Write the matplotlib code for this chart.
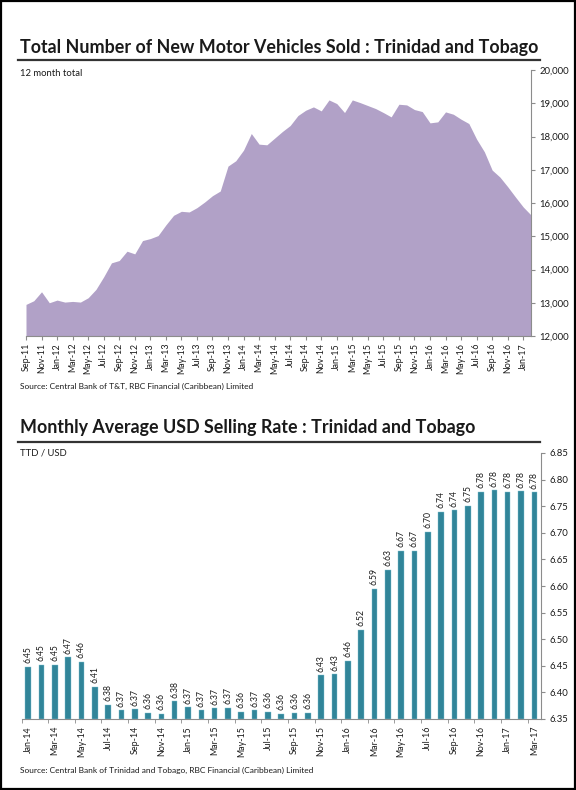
import matplotlib
matplotlib.use("Agg")
import matplotlib.pyplot as plt
from matplotlib.ticker import FuncFormatter, FixedLocator
import matplotlib.patches as mpatches
import matplotlib.lines as mlines

plt.rcParams['font.family'] = ['Lato', 'DejaVu Sans']

# 12 month total of new vehicle sales, Sep-11 .. Feb-17
vehicle_start = "2011-09"
vehicles = [12950, 13060, 13330, 13000, 13080, 13020, 13040, 13020, 13150, 13400,
            13780, 14200, 14270, 14550, 14470, 14870, 14930, 15020, 15340, 15630,
            15750, 15730, 15860, 16030, 16220, 16360, 17110, 17270, 17590, 18090,
            17770, 17750, 17950, 18150, 18330, 18630, 18790, 18890, 18770, 19100,
            18990, 18720, 19100, 19020, 18930, 18840, 18720, 18590, 18970, 18950,
            18810, 18750, 18410, 18440, 18740, 18670, 18520, 18390, 17920, 17540,
            16990, 16780, 16490, 16180, 15880, 15640]

# monthly average USD selling rate, Jan-14 .. Mar-17
rate_start = "2014-01"
usd_rate = [6.448, 6.452, 6.452, 6.466, 6.457, 6.410, 6.377, 6.366, 6.368, 6.362,
            6.360, 6.383, 6.372, 6.366, 6.370, 6.371, 6.364, 6.366, 6.364, 6.359,
            6.362, 6.362, 6.432, 6.434, 6.459, 6.518, 6.594, 6.631, 6.666, 6.666,
            6.702, 6.739, 6.742, 6.751, 6.777, 6.780, 6.777, 6.778, 6.776]

MONTHS = ["Jan", "Feb", "Mar", "Apr", "May", "Jun",
          "Jul", "Aug", "Sep", "Oct", "Nov", "Dec"]


def month_labels(start, n):
    y, m = map(int, start.split("-"))
    out = []
    for _ in range(n):
        out.append("%s-%02d" % (MONTHS[m - 1], y % 100))
        m += 1
        if m > 12:
            m = 1
            y += 1
    return out


AREA = "#b1a1c7"
BAR = "#318599"
GREY = "#8c8c8c"
TXT = "#1a1a1a"

fig = plt.figure(figsize=(5.76, 7.90), dpi=100)

# frame round the page
fig.add_artist(mpatches.Rectangle((0.002, 0.001), 0.996, 0.998, transform=fig.transFigure,
                                  fill=False, edgecolor="black", linewidth=1.6))


def header(y_title, y_line, y_sub, title, sub):
    fig.text(20 / 576, 1 - y_title / 790, title, fontsize=12.9, fontweight="bold",
             color=TXT, va="center", ha="left")
    fig.add_artist(mlines.Line2D([18 / 576, 540 / 576], [1 - y_line / 790] * 2,
                                 color="#333333", linewidth=1.6, transform=fig.transFigure))
    fig.text(20 / 576, 1 - y_sub / 790, sub, fontsize=6.8, color=TXT, va="center", ha="left")


def style_axes(ax):
    for s in ("left", "top"):
        ax.spines[s].set_visible(False)
    for s in ("right", "bottom"):
        ax.spines[s].set_color(GREY)
        ax.spines[s].set_linewidth(0.8)
    ax.yaxis.tick_right()
    ax.tick_params(axis="y", which="both", length=3, color=GREY, labelsize=6.8,
                   labelcolor=TXT, pad=3)
    ax.tick_params(axis="x", labelsize=6.4, labelcolor=TXT, color=GREY)


# ---- new motor vehicles sold ----
header(47, 60, 73, "Total Number of New Motor Vehicles Sold : Trinidad and Tobago",
       "12 month total")

ax1 = fig.add_axes([26 / 576, 1 - 336 / 790, (531 - 26) / 576, (336 - 70) / 790])
x1 = list(range(len(vehicles)))
ax1.fill_between(x1, 12000, vehicles, color=AREA, linewidth=0)
ax1.set_xlim(0, len(vehicles) - 1)
ax1.set_ylim(12000, 20000)
ax1.set_yticks(range(12000, 20001, 1000))
ax1.yaxis.set_major_formatter(FuncFormatter(lambda v, p: "{:,.0f}".format(v)))
style_axes(ax1)
lab1 = month_labels(vehicle_start, len(vehicles))
ticks1 = x1[::2]
ax1.set_xticks(ticks1)
ax1.set_xticklabels([lab1[i] for i in ticks1], rotation=90)
ax1.tick_params(axis="x", length=3, pad=2)

fig.text(20 / 576, 1 - 386 / 790,
         "Source: Central Bank of T&T, RBC Financial (Caribbean) Limited",
         fontsize=6.0, color=TXT, va="center", ha="left")

# ---- USD selling rate ----
header(427, 442, 453, "Monthly Average USD Selling Rate : Trinidad and Tobago", "TTD / USD")

ax2 = fig.add_axes([21.5 / 576, 1 - 719 / 790, (541 - 21.5) / 576, (719 - 453) / 790])
x2 = list(range(len(usd_rate)))
ax2.bar(x2, [v - 6.35 for v in usd_rate], bottom=6.35, width=0.42, color=BAR,
        edgecolor="#7fc3d3", linewidth=0.3)
for xi, v in zip(x2, usd_rate):
    ax2.text(xi, v + 0.007, "%.2f" % v, rotation=90, ha="center", va="bottom",
             fontsize=6.2, color=TXT)
ax2.set_xlim(-0.5, len(usd_rate) - 0.5)
ax2.set_ylim(6.35, 6.85)
ax2.set_yticks([6.35 + 0.05 * i for i in range(11)])
ax2.yaxis.set_major_formatter(FuncFormatter(lambda v, p: "%.2f" % v))
style_axes(ax2)
lab2 = month_labels(rate_start, len(usd_rate))
ticks2 = x2[::2]
ax2.set_xticks(ticks2)
ax2.set_xticklabels([lab2[i] for i in ticks2], rotation=90)
ax2.xaxis.set_minor_locator(FixedLocator([i - 0.5 for i in ticks2]))
ax2.tick_params(axis="x", which="major", length=0, pad=5)
ax2.tick_params(axis="x", which="minor", length=3, color=GREY)

fig.text(20 / 576, 1 - 770 / 790,
         "Source: Central Bank of Trinidad and Tobago, RBC Financial (Caribbean) Limited",
         fontsize=6.0, color=TXT, va="center", ha="left")

fig.savefig("out.png", dpi=100)
